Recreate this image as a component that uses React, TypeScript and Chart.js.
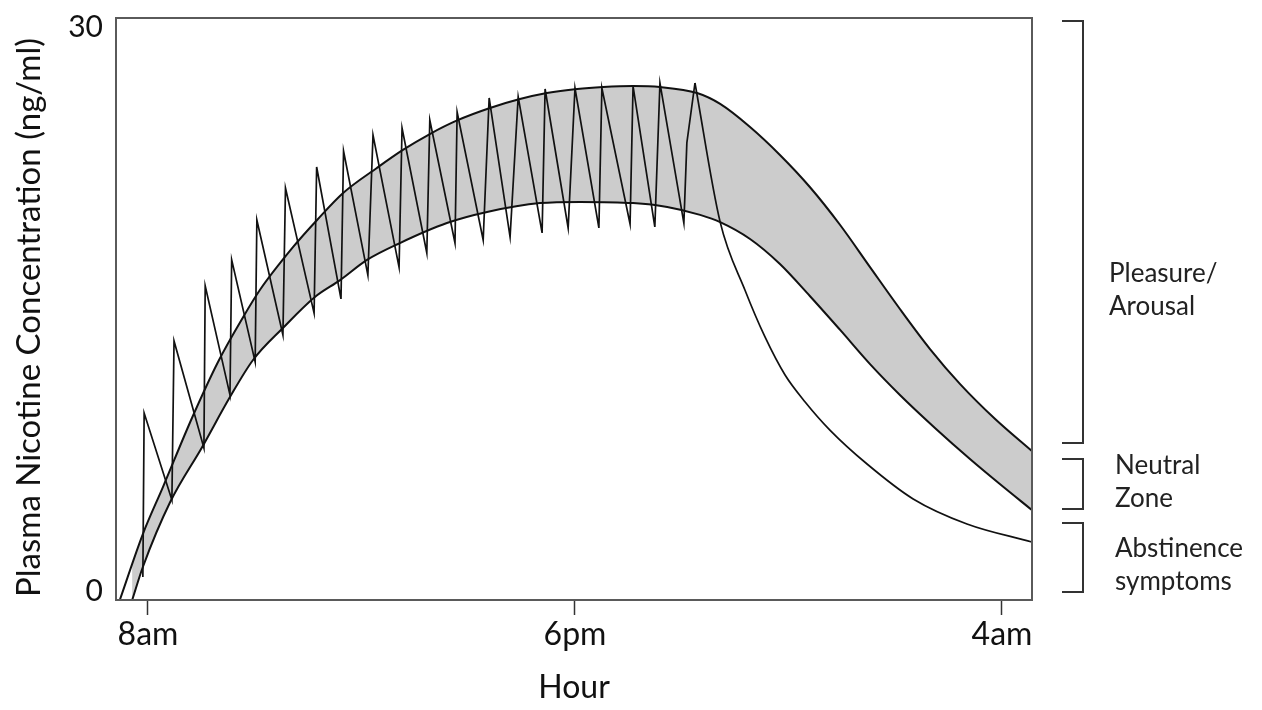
import React, { useEffect, useRef } from 'react';
import { Chart, registerables } from 'chart.js';

Chart.register(...registerables);

// x = hours after 8am, y = plasma nicotine concentration (ng/ml)
const UPPER_HOURS = [-0.66, -0.12, 0.35, 1.03, 1.64, 2.23, 2.62, 3.40, 3.96, 4.57, 5.36, 5.97, 6.60, 7.24, 8.01, 8.71, 9.34, 10.05, 10.66, 11.36, 11.99, 12.86, 13.40, 14.10, 14.80, 15.50, 16.21, 16.91, 17.61, 18.31, 19.02, 19.84, 20.70];
const UPPER_CONC = [0, 3.4, 5.82, 9.38, 12.27, 14.59, 15.98, 18.20, 19.59, 20.98, 22.27, 23.20, 24.02, 24.72, 25.36, 25.82, 26.13, 26.34, 26.44, 26.49, 26.44, 26.13, 25.57, 24.38, 22.94, 21.29, 19.33, 17.16, 15.00, 12.95, 11.13, 9.33, 7.68];

const LOWER_HOURS = [-0.37, -0.12, 0.52, 1.27, 1.92, 2.46, 3.16, 3.91, 4.50, 5.13, 5.90, 7.00, 7.94, 9.18, 10.12, 11.36, 12.16, 12.93, 13.40, 14.10, 14.80, 15.50, 16.21, 16.91, 17.61, 18.43, 19.25, 19.95, 20.70];
const LOWER_CONC = [0, 1.70, 5.05, 7.89, 10.46, 12.37, 14.02, 15.62, 16.49, 17.53, 18.40, 19.43, 20.00, 20.46, 20.52, 20.46, 20.26, 19.85, 19.48, 18.61, 17.32, 15.67, 13.92, 12.16, 10.57, 8.87, 7.27, 5.98, 4.64];

const SMOKER_HOURS = [-0.12, -0.09, 0.56, 0.61, 1.31, 1.34, 1.92, 1.96, 2.51, 2.55, 3.16, 3.22, 3.89, 3.95, 4.52, 4.58, 5.15, 5.27, 5.88, 5.95, 6.53, 6.60, 7.19, 7.24, 7.85, 7.99, 8.48, 8.67, 9.23, 9.30, 9.84, 10.00, 10.56, 10.63, 11.29, 11.36, 11.87, 11.99, 12.55, 12.62, 12.81];
const SMOKER_CONC = [1.19, 9.64, 5.15, 13.35, 7.84, 16.19, 10.57, 17.53, 12.27, 19.59, 13.66, 21.24, 14.79, 22.32, 15.52, 23.14, 16.75, 23.97, 17.16, 24.33, 17.89, 24.74, 18.40, 25.15, 18.56, 25.88, 18.71, 25.93, 18.92, 26.34, 19.18, 26.39, 19.18, 26.39, 19.38, 26.49, 19.23, 26.65, 19.43, 23.56, 26.65];

const WITHDRAWAL_HOURS = [12.81, 13.40, 13.98, 14.45, 14.92, 15.39, 15.97, 16.84, 17.92, 19.18, 20.70];
const WITHDRAWAL_CONC = [26.65, 19.48, 15.98, 13.56, 11.60, 10.21, 8.76, 7.01, 5.21, 3.92, 2.99];

const X_TICK_VALUES = [0, 10, 20];
const X_TICK_LABELS = ['8am', '6pm', '4am'];
const Y_TICK_VALUES = [0, 30];

const ZONE_LABELS = [['Pleasure/', 'Arousal'], ['Neutral', 'Zone'], ['Abstinence', 'symptoms']];
const ZONE_TOP = [29.85, 7.27, 3.97];
const ZONE_BOTTOM = [8.09, 4.69, 0.41];
const ZONE_LABEL_AT = [15.98, 6.08, 1.8];

const FONT = 'Lato';

const toPoints = (xs: number[], ys: number[]) => xs.map((x, i) => ({ x, y: ys[i] }));

const framePlugin = {
  id: 'frameAndZones',
  afterDraw(chart: any) {
    const { ctx, chartArea } = chart;
    const y = chart.scales.y;
    ctx.save();
    ctx.strokeStyle = '#5a5a5a';
    ctx.lineWidth = 2;
    ctx.strokeRect(chartArea.left, chartArea.top, chartArea.right - chartArea.left, chartArea.bottom - chartArea.top);

    ctx.strokeStyle = '#333';
    ctx.lineWidth = 2;
    const r = chartArea.right;
    ZONE_LABELS.forEach((lines, i) => {
      const yt = y.getPixelForValue(ZONE_TOP[i]);
      const yb = y.getPixelForValue(ZONE_BOTTOM[i]);
      ctx.beginPath();
      ctx.moveTo(r + 30, yt);
      ctx.lineTo(r + 51, yt);
      ctx.lineTo(r + 51, yb);
      ctx.lineTo(r + 30, yb);
      ctx.stroke();
      const yc = y.getPixelForValue(ZONE_LABEL_AT[i]);
      ctx.fillStyle = '#222';
      ctx.font = `26px ${FONT}`;
      ctx.textAlign = 'left';
      ctx.textBaseline = 'middle';
      const tx = r + (i === 0 ? 77 : 83);
      lines.forEach((t, j) => {
        ctx.fillText(t, tx, yc + (j - (lines.length - 1) / 2) * 33);
      });
    });
    ctx.restore();
  },
};

export default function App() {
  const ref = useRef<HTMLCanvasElement | null>(null);
  useEffect(() => {
    if (!ref.current) return;
    const lineBase = {
      pointRadius: 0,
      borderColor: '#111',
      showLine: true,
    };
    const chart = new Chart(ref.current, {
      type: 'scatter',
      data: {
        datasets: [
          {
            ...lineBase,
            label: 'Smoker',
            data: toPoints(SMOKER_HOURS, SMOKER_CONC),
            borderWidth: 1.7,
            tension: 0,
            fill: false,
          },
          {
            ...lineBase,
            label: 'Withdrawal',
            data: toPoints(WITHDRAWAL_HOURS, WITHDRAWAL_CONC),
            borderWidth: 1.7,
            cubicInterpolationMode: 'monotone',
            fill: false,
          },
          {
            ...lineBase,
            label: 'Upper',
            data: toPoints(UPPER_HOURS, UPPER_CONC),
            borderWidth: 2,
            cubicInterpolationMode: 'monotone',
            fill: '+1',
            backgroundColor: '#cccccc',
          },
          {
            ...lineBase,
            label: 'Lower',
            data: toPoints(LOWER_HOURS, LOWER_CONC),
            borderWidth: 2,
            cubicInterpolationMode: 'monotone',
            fill: false,
          },
        ],
      },
      options: {
        animation: false,
        responsive: false,
        events: [],
        layout: { padding: { top: 18, right: 230, bottom: 0, left: 0 } },
        plugins: {
          legend: { display: false },
          tooltip: { enabled: false },
          filler: { propagate: false, drawTime: 'beforeDatasetsDraw' },
        },
        scales: {
          x: {
            type: 'linear',
            min: -0.749,
            max: 20.703,
            afterFit: (s: any) => { s.height = 110; s.paddingLeft = 0; s.paddingRight = 0; },
            afterBuildTicks: (s: any) => { s.ticks = X_TICK_VALUES.map((v) => ({ value: v })); },
            border: { display: false },
            grid: { display: true, drawOnChartArea: false, drawTicks: true, tickLength: 15, color: '#333', tickWidth: 1.5 },
            ticks: {
              autoSkip: false,
              maxRotation: 0,
              padding: 0,
              color: '#111',
              font: { family: FONT, size: 32, lineHeight: 1.2 },
              callback: (v: any) => {
                const i = X_TICK_VALUES.indexOf(Number(v));
                return i >= 0 ? X_TICK_LABELS[i] : '';
              },
            },
            title: {
              display: true,
              text: 'Hour',
              color: '#111',
              font: { family: FONT, size: 32, lineHeight: 1.2 },
              padding: { top: 0, bottom: 3 },
            },
          },
          y: {
            type: 'linear',
            min: 0,
            max: 30,
            afterFit: (s: any) => { s.width = 116; s.paddingTop = 0; s.paddingBottom = 0; },
            afterBuildTicks: (s: any) => { s.ticks = Y_TICK_VALUES.map((v) => ({ value: v })); },
            border: { display: false },
            grid: { display: false, drawTicks: false },
            ticks: {
              padding: 13,
              color: '#111',
              font: { family: FONT, size: 30, lineHeight: '18px' },
              callback: (v: any) => (Number(v) === 0 ? ['0', ''] : ['', String(v)]),
            },
            title: {
              display: true,
              text: 'Plasma Nicotine Concentration (ng/ml)  ',
              color: '#111',
              font: { family: FONT, size: 33, lineHeight: 1.2 },
              padding: { top: 10, bottom: 0 },
            },
          },
        },
      },
      plugins: [framePlugin],
    } as any);
    return () => chart.destroy();
  }, []);

  return (
    <div style={{ position: 'absolute', left: 0, top: 0, width: 1262, height: 710, background: '#fff' }}>
      <canvas ref={ref} width={1262} height={710} style={{ display: 'block' }} />
    </div>
  );
}
